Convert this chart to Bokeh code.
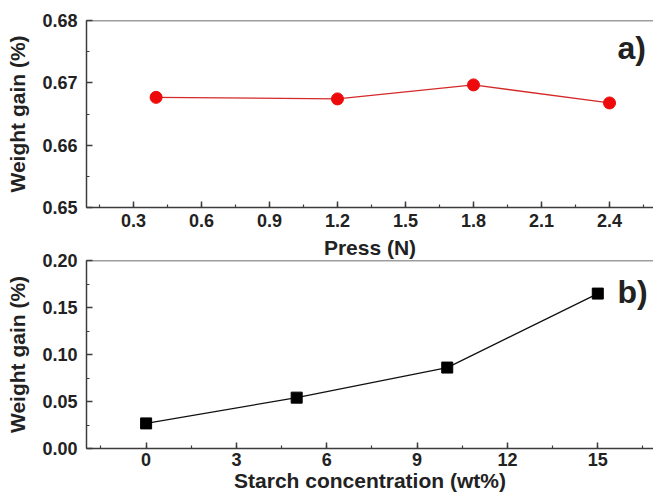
from bokeh.plotting import figure
from bokeh.models import Label, SingleIntervalTicker, Range1d, Span, NumeralTickFormatter
from bokeh.layouts import column
from bokeh.embed import file_html
from bokeh.resources import INLINE

# Panel a) data
press_n = [0.4, 1.2, 1.8, 2.4]
gain_a = [0.66767, 0.66742, 0.66967, 0.66677]
# Panel b) data
starch_wt = [0, 5, 10, 15]
gain_b = [0.0267, 0.0541, 0.0861, 0.1648]

FONT = "Liberation Sans"
AX_COLOR = "#3c3c3c"
TXT = "#222222"
FW = 567


def style(p, xlabel, ylabel, xstep, ystep):
    p.outline_line_color = None
    p.xgrid.visible = False
    p.ygrid.visible = False
    for ax, step in ((p.xaxis[0], xstep), (p.yaxis[0], ystep)):
        ax.ticker = SingleIntervalTicker(interval=step, num_minor_ticks=2)
        ax.major_tick_in = 6
        ax.major_tick_out = 0
        ax.minor_tick_in = 3
        ax.minor_tick_out = 0
        ax.axis_line_color = AX_COLOR
        ax.axis_line_width = 1.5
        ax.major_tick_line_color = AX_COLOR
        ax.major_tick_line_width = 1.5
        ax.minor_tick_line_color = AX_COLOR
        ax.minor_tick_line_width = 1.2
        ax.major_label_text_font = FONT
        ax.major_label_text_font_style = "bold"
        ax.major_label_text_font_size = "18px"
        ax.major_label_text_color = TXT
        ax.axis_label_text_font = FONT
        ax.axis_label_text_font_style = "bold"
        ax.axis_label_text_font_size = "21px"
        ax.axis_label_text_color = TXT
    p.xaxis.axis_label = xlabel
    p.yaxis.axis_label = ylabel
    p.yaxis.major_label_standoff = 9
    p.yaxis.axis_label_standoff = 10
    # top border of the frame (right border lies outside the picture)
    p.add_layout(Span(location=p.y_range.end, dimension="width",
                      line_color=AX_COLOR, line_width=1.5))


def tag(p, s, y):
    p.add_layout(Label(x=531, y=y, x_units="screen", y_units="screen", text=s,
                       text_font=FONT, text_font_style="bold",
                       text_baseline="alphabetic", text_font_size="32px",
                       text_color=TXT))


# ---- panel a)
pa = figure(frame_width=FW, frame_height=187, output_backend="svg",
            toolbar_location=None,
            x_range=Range1d(0.093, 2.594), y_range=Range1d(0.65, 0.68),
            min_border_left=86, min_border_right=0, min_border_top=20,
            min_border_bottom=5)
style(pa, "Press (N)", "Weight gain (%)", 0.3, 0.01)
pa.xaxis.major_label_standoff = 6
pa.xaxis.axis_label_standoff = 6
pa.line(press_n, gain_a, line_color="#d42a2a", line_width=1.3)
pa.scatter(press_n, gain_a, size=12, marker="circle", fill_color="#ee0a0a",
           line_color="#ee0a0a")
tag(pa, "a)", 160)

# ---- panel b)  (its transparent top border overlaps the bottom of panel a)
pb = figure(frame_width=FW, frame_height=188, output_backend="svg",
            toolbar_location=None,
            x_range=Range1d(-1.98, 16.85), y_range=Range1d(0.0, 0.2),
            min_border_left=86, min_border_right=0, min_border_top=10,
            min_border_bottom=5, border_fill_color=None)
pb.styles = {"margin-top": "-11px"}
style(pb, "Starch concentration (wt%)", "Weight gain (%)", 3, 0.05)
pb.yaxis[0].formatter = NumeralTickFormatter(format="0.00")
pb.xaxis.major_label_standoff = 4
pb.xaxis.axis_label_standoff = 0
pb.line(starch_wt, gain_b, line_color="#111111", line_width=1.3)
pb.scatter(starch_wt, gain_b, size=11, marker="square", fill_color="#000000",
           line_color="#000000")
tag(pb, "b)", 157)

layout = column(pa, pb, spacing=0)
open("out.html", "w").write(file_html(layout, INLINE))
